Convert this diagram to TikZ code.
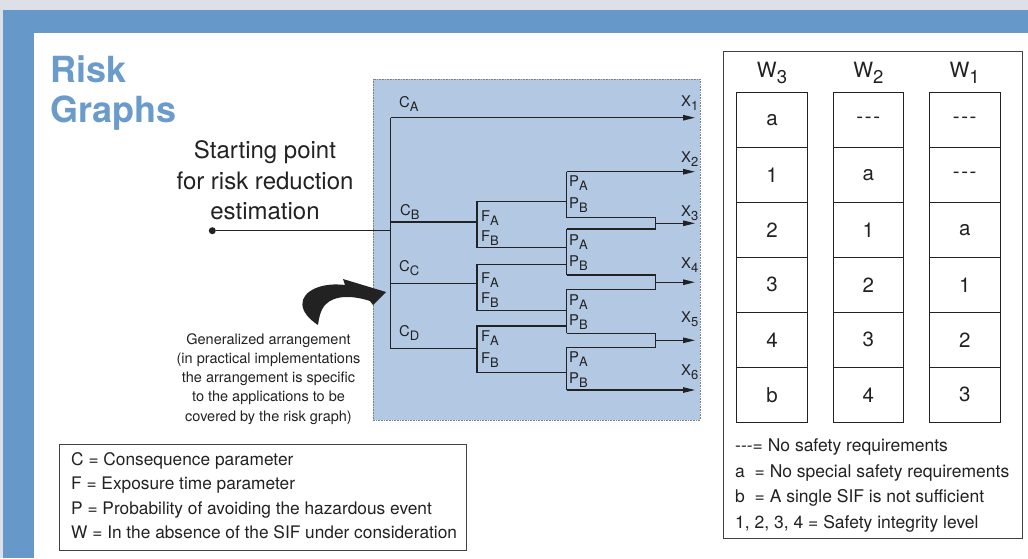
\documentclass[tikz,border=0pt]{standalone}
\usepackage{fontspec}
\setmainfont{TeX Gyre Heros}
\usetikzlibrary{arrows.meta}
\definecolor{band}{HTML}{6699C9}
\definecolor{shade}{HTML}{B3C9E3}
\definecolor{titleblue}{HTML}{6A9BCB}
\definecolor{topgray}{HTML}{DDE0E7}
\definecolor{ink}{HTML}{222222}
\newcommand\fs[1]{\fontsize{#1}{#1}\selectfont}
\newcommand\sublab[2]{#1\raisebox{-4pt}{\fs{13}#2}}
\newcommand\wlab[2]{#1\raisebox{-6pt}{\fs{18.5}#2}}
\newcommand\tdash{-\hspace{1.6pt}-\hspace{1.6pt}-}
\begin{document}
\begin{tikzpicture}[x=1pt,y=-1pt,
  gline/.style={line width=1.2pt, draw=ink},
  garrow/.style={gline, -{Triangle[length=12pt,width=5.5pt]}},
  glab/.style={font=\fs{14.8}, inner sep=0, anchor=base west, text=ink},
  txt/.style={inner sep=0, anchor=base, text=ink},
  ltxt/.style={inner sep=0, anchor=base west, text=ink},
  cell/.style={draw=ink, line width=0.8pt, minimum height=55pt, font=\fs{20.5}, inner sep=0, text=ink},
  frame/.style={draw=ink!85, line width=0.9pt}
]
\useasboundingbox (0,0) rectangle (1028,558);
% background
\fill[topgray] (0,0) rectangle (1028,558);
\fill[band] (3,10) rectangle (1028,33);
\fill[band] (3,10) rectangle (34,558);
\fill[white] (34,33) rectangle (1028,558);

% title
\node[ltxt, font=\fs{36}\bfseries, text=titleblue] (t1) at (50,82) {Risk};
\node[ltxt, font=\fs{36}\bfseries, text=titleblue] (t2) at (50,122) {Graphs};

% shaded area
\draw[fill=shade, draw=gray, line width=0.6pt, dash pattern=on 0.8pt off 0.8pt] (373,79) rectangle (700,420);

% starting point text
\node[txt, font=\fs{24}] (s1) at (265,158.3) {Starting point};
\node[txt, font=\fs{24}] (s2) at (265,189.3) {for risk reduction};
\node[txt, font=\fs{24}] (s3) at (265,219.3) {estimation};

% generalized arrangement text
\node[txt, font=\fs{14.5}] (g1) at (268.5,344) {Generalized arrangement};
\node[txt, font=\fs{14.5}] (g2) at (268.5,363.3) {(in practical implementations};
\node[txt, font=\fs{14.5}] (g3) at (268.5,382.5) {the arrangement is specific};
\node[txt, font=\fs{14.5}] (g4) at (268.5,401.8) {to the applications to be};
\node[txt, font=\fs{14.5}] (g5) at (268.5,421) {covered by the risk graph)};

% curved arrow
\fill[ink] (318,325) .. controls (298,312) and (297,296) .. (316,288)
  .. controls (326,284) and (336,284) .. (345,285) -- (343,279) -- (386,292)
  -- (373,305) -- (370,301) .. controls (355,296) and (335,294) .. (325,305)
  .. controls (320,311) and (319,318) .. cycle;

% ---- graph ----
\node[circle, fill=ink, inner sep=0, minimum size=7pt] (dot) at (212.3,230.7) {};
\coordinate (trStart) at (390.5,230.7);
\coordinate (trTop) at (390.5,117.7);
\coordinate (trBot) at (390.5,348.7);
\coordinate (x1end) at (695,117.7);
\draw[ink, line width=0.8pt] (dot) -- (trStart);
\draw[gline] (trTop) -- (trBot);
\draw[garrow] (trTop) -- (x1end);

\foreach \n/\c/\t/\b in {B/222/201.7/247.7, C/283.3/264.3/310.7, D/348.7/326/372.7} {
  \coordinate (c\n) at (390.5,\c);
  \coordinate (fc\n) at (477,\c);
  \coordinate (ft\n) at (477,\t);
  \coordinate (fb\n) at (477,\b);
  \coordinate (pt\n) at (566.7,\t);
  \coordinate (pb\n) at (566.7,\b);
  \draw[gline] (c\n) -- (fc\n);
  \draw[gline] (pt\n) -- (ft\n) -- (fb\n) -- (pb\n);
}
\foreach \n/\t/\b in {1/171.7/217.7, 2/229/275, 3/289.3/333.3, 4/347.3/390} {
  \coordinate (P\n t) at (566.7,\t);
  \coordinate (P\n b) at (566.7,\b);
  \coordinate (M\n t) at (655.7,\t);
  \coordinate (M\n b) at (655.7,\b);
  \draw[gline] (P\n t) -- (P\n b);
}
\coordinate (X2e) at (695,171.7);
\coordinate (X6e) at (695,390);
\draw[garrow] (P1t) -- (X2e);
\draw[garrow] (P4b) -- (X6e);
\draw[gline] (P1b) -- (M1b) -- (M2t) -- (P2t);
\draw[gline] (P2b) -- (M2b) -- (M3t) -- (P3t);
\draw[gline] (P3b) -- (M3b) -- (M4t) -- (P4t);
\coordinate (X3s) at (655.7,223.3); \coordinate (X3e) at (695,223.3);
\coordinate (X4s) at (655.7,282.2); \coordinate (X4e) at (695,282.2);
\coordinate (X5s) at (655.7,340.3); \coordinate (X5e) at (695,340.3);
\draw[garrow] (X3s) -- (X3e);
\draw[garrow] (X4s) -- (X4e);
\draw[garrow] (X5s) -- (X5e);

% graph labels
\node[glab] (lCA) at (399,107.3) {\sublab{C}{A}};
\node[glab] (lCB) at (400,215) {\sublab{C}{B}};
\node[glab] (lCC) at (399,271.7) {\sublab{C}{C}};
\node[glab] (lCD) at (399,336.7) {\sublab{C}{D}};
\node[glab] (f1a) at (481,221.7) {\sublab{F}{A}};
\node[glab] (f1b) at (481,241.7) {\sublab{F}{B}};
\node[glab] (f2a) at (481,283) {\sublab{F}{A}};
\node[glab] (f2b) at (481,303) {\sublab{F}{B}};
\node[glab] (f3a) at (481,341.7) {\sublab{F}{A}};
\node[glab] (f3b) at (481,363) {\sublab{F}{B}};
\node[glab] (p1a) at (569,186.7) {\sublab{P}{A}};
\node[glab] (p1b) at (569,208.3) {\sublab{P}{B}};
\node[glab] (p2a) at (569,245) {\sublab{P}{A}};
\node[glab] (p2b) at (569,266) {\sublab{P}{B}};
\node[glab] (p3a) at (569,305) {\sublab{P}{A}};
\node[glab] (p3b) at (569,325) {\sublab{P}{B}};
\node[glab] (p4a) at (569,362) {\sublab{P}{A}};
\node[glab] (p4b) at (569,383.3) {\sublab{P}{B}};
\node[glab] (lx1) at (681,106.7) {\sublab{X}{1}};
\node[glab] (lx2) at (681,162) {\sublab{X}{2}};
\node[glab] (lx3) at (681,216) {\sublab{X}{3}};
\node[glab] (lx4) at (681,268) {\sublab{X}{4}};
\node[glab] (lx5) at (681,322) {\sublab{X}{5}};
\node[glab] (lx6) at (681,375) {\sublab{X}{6}};

% ---- left legend ----
\draw[frame] (59,444) rectangle (466,550);
\node[ltxt, font=\fs{17.3}] (lg1) at (71,465) {C = Consequence parameter};
\node[ltxt, font=\fs{17.3}] (lg2) at (71,489.5) {F = Exposure time parameter};
\node[ltxt, font=\fs{17.3}] (lg3) at (71,514) {P = Probability of avoiding the hazardous event};
\node[ltxt, font=\fs{17.3}] (lg4) at (71,538) {W = In the absence of the SIF under consideration};

% ---- right table ----
\draw[frame] (723,51) rectangle (1022,538);
\node[txt, font=\fs{21}] (w3) at (772,77.3) {\wlab{W}{3}};
\node[txt, font=\fs{21}] (w2) at (868.3,77.3) {\wlab{W}{2}};
\node[txt, font=\fs{21}] (w1) at (964.7,77.3) {\wlab{W}{1}};
\foreach \v [count=\i] in {a,1,2,3,4,b} {
  \node[cell, minimum width=70.6pt] (a\i) at (772,{92.3+55*(\i-0.5)}) {\v};
}
\foreach \v [count=\i] in {\tdash,a,1,2,3,4} {
  \node[cell, minimum width=70pt] (b\i) at (868.3,{92.3+55*(\i-0.5)}) {\v};
}
\foreach \v [count=\i] in {\tdash,\tdash,a,1,2,3} {
  \node[cell, minimum width=70.7pt] (c\i) at (964.7,{92.3+55*(\i-0.5)}) {\v};
}
\node[ltxt, font=\fs{17.5}] (r1) at (735,451) {-{}-{}-= No safety requirements};
\node[ltxt, font=\fs{17.5}] (r2) at (735,477) {a\ \ = No special safety requirements};
\node[ltxt, font=\fs{17.5}] (r3) at (735,502) {b\ \ = A single SIF is not sufficient};
\node[ltxt, font=\fs{17.5}] (r4) at (735,528) {1, 2, 3, 4 = Safety integrity level};
\end{tikzpicture}
\end{document}
